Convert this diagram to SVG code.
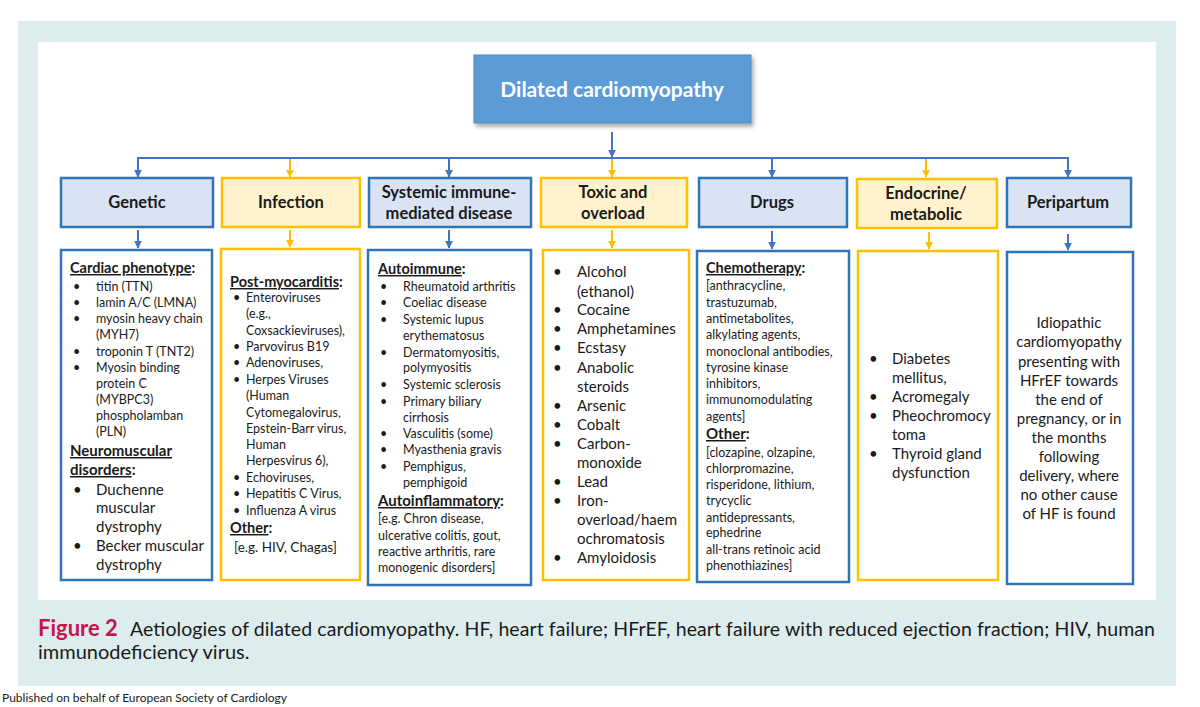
<svg xmlns="http://www.w3.org/2000/svg" width="1200" height="707" viewBox="0 0 1200 707">
<defs>
<style>
text{font-family:Lato,"Liberation Sans",sans-serif;fill:#1a1a1a}
.cb{fill:#dae3f3;stroke:#2e75b6;stroke-width:2.5}
.cy{fill:#fff2cc;stroke:#ffc000;stroke-width:2.5}
.db{fill:#fff;stroke:#2e75b6;stroke-width:2.5}
.dy{fill:#fff;stroke:#ffc000;stroke-width:2.5}
.ct{font-size:16.5px;font-weight:bold;text-anchor:middle}
.s{font-size:12.5px}
.l{font-size:15px}
.h{font-size:14.5px;font-weight:bold}
.u{text-decoration:underline}
.lb{fill:none;stroke:#4472c4;stroke-width:2}
.ly{fill:none;stroke:#ffc000;stroke-width:2}
.c{text-anchor:middle}
</style>
<marker id="ab" viewBox="0 0 10 10" refX="9" refY="5" markerWidth="4" markerHeight="4" orient="auto" markerUnits="strokeWidth"><path d="M0,0 L10,5 L0,10 z" fill="#4472c4"/></marker>
<marker id="ay" viewBox="0 0 10 10" refX="9" refY="5" markerWidth="4" markerHeight="4" orient="auto" markerUnits="strokeWidth"><path d="M0,0 L10,5 L0,10 z" fill="#ffc000"/></marker>
<filter id="sh" x="-10%" y="-10%" width="125%" height="140%"><feDropShadow dx="2" dy="3" stdDeviation="2" flood-color="#000" flood-opacity="0.35"/></filter>
</defs>
<rect width="1200" height="707" fill="#fff"/>
<rect x="18" y="21" width="1158" height="665" fill="#ddeced"/>
<rect x="38" y="42" width="1118" height="558" fill="#fff"/>

<g id="connectors">
<line class="lb" x1="612" y1="132" x2="612" y2="157" marker-end="url(#ab)"/>
<path class="lb" d="M138,176 V158 H1068 V176"/>
<line class="lb" x1="138" y1="158" x2="138" y2="177" marker-end="url(#ab)"/>
<line class="ly" x1="290" y1="159" x2="290" y2="177" marker-end="url(#ay)"/>
<line class="lb" x1="449" y1="158" x2="449" y2="177" marker-end="url(#ab)"/>
<line class="ly" x1="612" y1="159" x2="612" y2="177" marker-end="url(#ay)"/>
<line class="lb" x1="772" y1="158" x2="772" y2="177" marker-end="url(#ab)"/>
<line class="ly" x1="926" y1="159" x2="926" y2="177" marker-end="url(#ay)"/>
<line class="lb" x1="1068" y1="158" x2="1068" y2="177" marker-end="url(#ab)"/>
<line class="lb" x1="138" y1="230" x2="138" y2="248" marker-end="url(#ab)"/>
<line class="ly" x1="290" y1="230" x2="290" y2="247" marker-end="url(#ay)"/>
<line class="lb" x1="449" y1="230" x2="449" y2="248" marker-end="url(#ab)"/>
<line class="ly" x1="612" y1="230" x2="612" y2="248" marker-end="url(#ay)"/>
<line class="lb" x1="772" y1="231" x2="772" y2="249" marker-end="url(#ab)"/>
<line class="ly" x1="929" y1="232" x2="929" y2="249" marker-end="url(#ay)"/>
<line class="lb" x1="1068" y1="234" x2="1068" y2="250" marker-end="url(#ab)"/>
</g>

<g id="root">
<rect x="474" y="55" width="277" height="68" fill="#5b9bd5" stroke="#4f8cc6" stroke-width="1" filter="url(#sh)"/>
<text x="612" y="97" class="c" style="font-size:21px;font-weight:bold;fill:#fff">Dilated cardiomyopathy</text>
</g>

<g id="genetic">
<rect class="cb" x="61" y="178" width="152" height="49"/>
<text class="ct" x="137" y="208">Genetic</text>
<rect class="db" x="61" y="250" width="151" height="330"/>
<text class="h" x="70" y="273"><tspan class="u">Cardiac phenotype</tspan>:</text>
<g class="s">
<text x="73" y="291">•</text><text x="96" y="291">titin (TTN)</text>
<text x="73" y="307">•</text><text x="96" y="307">lamin A/C (LMNA)</text>
<text x="73" y="323">•</text><text x="96" y="323">myosin heavy chain</text>
<text x="96" y="339">(MYH7)</text>
<text x="73" y="356">•</text><text x="96" y="356">troponin T (TNT2)</text>
<text x="73" y="372">•</text><text x="96" y="372">Myosin binding</text>
<text x="96" y="388">protein C</text>
<text x="96" y="404">(MYBPC3)</text>
<text x="96" y="420">phospholamban</text>
<text x="96" y="436">(PLN)</text>
</g>
<text class="h" x="70" y="456" style="font-size:15px"><tspan class="u">Neuromuscular</tspan></text>
<text class="h" x="70" y="475" style="font-size:15px"><tspan class="u">disorders</tspan>:</text>
<g class="l">
<text x="73" y="495">•</text><text x="96" y="495">Duchenne</text>
<text x="96" y="513">muscular</text>
<text x="96" y="532">dystrophy</text>
<text x="73" y="551">•</text><text x="96" y="551">Becker muscular</text>
<text x="96" y="570">dystrophy</text>
</g>
</g>

<g id="infection">
<rect class="cy" x="222" y="178" width="138" height="49"/>
<text class="ct" x="291" y="208">Infection</text>
<rect class="dy" x="221" y="249" width="139" height="331"/>
<text class="h" x="230" y="287"><tspan class="u">Post-myocarditis</tspan>:</text>
<g class="s">
<text x="233" y="302">•</text><text x="246" y="302">Enteroviruses</text>
<text x="246" y="318">(e.g.,</text>
<text x="246" y="335">Coxsackieviruses),</text>
<text x="233" y="351">•</text><text x="246" y="351">Parvovirus B19</text>
<text x="233" y="367">•</text><text x="246" y="367">Adenoviruses,</text>
<text x="233" y="384">•</text><text x="246" y="384">Herpes Viruses</text>
<text x="246" y="400">(Human</text>
<text x="246" y="417">Cytomegalovirus,</text>
<text x="246" y="433">Epstein-Barr virus,</text>
<text x="246" y="449">Human</text>
<text x="246" y="465">Herpesvirus 6),</text>
<text x="233" y="482">•</text><text x="246" y="482">Echoviruses,</text>
<text x="233" y="498">•</text><text x="246" y="498">Hepatitis C Virus,</text>
<text x="233" y="515">•</text><text x="246" y="515">Influenza A virus</text>
</g>
<text class="h" x="230" y="533"><tspan class="u">Other</tspan>:</text>
<text x="234" y="552" style="font-size:13.5px">[e.g. HIV, Chagas]</text>
</g>

<g id="systemic">
<rect class="cb" x="369" y="178" width="162" height="49"/>
<text class="ct" x="449" y="198">Systemic immune-</text>
<text class="ct" x="449" y="219">mediated disease</text>
<rect class="db" x="368" y="250" width="163" height="335"/>
<text class="h" x="378" y="274"><tspan class="u">Autoimmune</tspan>:</text>
<g class="s">
<text x="380" y="291">•</text><text x="403" y="291">Rheumatoid arthritis</text>
<text x="380" y="307">•</text><text x="403" y="307">Coeliac disease</text>
<text x="380" y="324">•</text><text x="403" y="324">Systemic lupus</text>
<text x="403" y="340">erythematosus</text>
<text x="380" y="357">•</text><text x="403" y="357">Dermatomyositis,</text>
<text x="403" y="372">polymyositis</text>
<text x="380" y="389">•</text><text x="403" y="389">Systemic sclerosis</text>
<text x="380" y="406">•</text><text x="403" y="406">Primary biliary</text>
<text x="403" y="422">cirrhosis</text>
<text x="380" y="438">•</text><text x="403" y="438">Vasculitis (some)</text>
<text x="380" y="454">•</text><text x="403" y="454">Myasthenia gravis</text>
<text x="380" y="471">•</text><text x="403" y="471">Pemphigus,</text>
<text x="403" y="487">pemphigoid</text>
</g>
<text class="h" x="378" y="506" style="font-size:15px"><tspan class="u">Autoinflammatory</tspan>:</text>
<g class="s">
<text x="378" y="523">[e.g. Chron disease,</text>
<text x="378" y="540">ulcerative colitis, gout,</text>
<text x="378" y="556">reactive arthritis, rare</text>
<text x="378" y="572">monogenic disorders]</text>
</g>
</g>

<g id="toxic">
<rect class="cy" x="541" y="178" width="146" height="49"/>
<text class="ct" x="613" y="198">Toxic and</text>
<text class="ct" x="613" y="219">overload</text>
<rect class="dy" x="543" y="250" width="146" height="330"/>
<g class="l">
<text x="553" y="277">•</text><text x="577" y="277">Alcohol</text>
<text x="577" y="297">(ethanol)</text>
<text x="553" y="315">•</text><text x="577" y="315">Cocaine</text>
<text x="553" y="334">•</text><text x="577" y="334">Amphetamines</text>
<text x="553" y="353">•</text><text x="577" y="353">Ecstasy</text>
<text x="553" y="373">•</text><text x="577" y="373">Anabolic</text>
<text x="577" y="392">steroids</text>
<text x="553" y="411">•</text><text x="577" y="411">Arsenic</text>
<text x="553" y="430">•</text><text x="577" y="430">Cobalt</text>
<text x="553" y="449">•</text><text x="577" y="449">Carbon-</text>
<text x="577" y="468">monoxide</text>
<text x="553" y="487">•</text><text x="577" y="487">Lead</text>
<text x="553" y="506">•</text><text x="577" y="506">Iron-</text>
<text x="577" y="525">overload/haem</text>
<text x="577" y="544">ochromatosis</text>
<text x="553" y="563">•</text><text x="577" y="563">Amyloidosis</text>
</g>
</g>

<g id="drugs">
<rect class="cb" x="699" y="178" width="148" height="49"/>
<text class="ct" x="772" y="208">Drugs</text>
<rect class="db" x="697" y="251" width="152" height="331"/>
<text class="h" x="706" y="273"><tspan class="u">Chemotherapy</tspan>:</text>
<g class="s">
<text x="706" y="290">[anthracycline,</text>
<text x="706" y="307">trastuzumab,</text>
<text x="706" y="323">antimetabolites,</text>
<text x="706" y="339">alkylating agents,</text>
<text x="706" y="356">monoclonal antibodies,</text>
<text x="706" y="372">tyrosine kinase</text>
<text x="706" y="388">inhibitors,</text>
<text x="706" y="404">immunomodulating</text>
<text x="706" y="421">agents]</text>
</g>
<text class="h" x="706" y="439" style="font-size:15px"><tspan class="u">Other</tspan>:</text>
<g class="s">
<text x="706" y="457">[clozapine, olzapine,</text>
<text x="706" y="473">chlorpromazine,</text>
<text x="706" y="489">risperidone, lithium,</text>
<text x="706" y="505">trycyclic</text>
<text x="706" y="522">antidepressants,</text>
<text x="706" y="537">ephedrine</text>
<text x="706" y="554">all-trans retinoic acid</text>
<text x="706" y="570">phenothiazines]</text>
</g>
</g>

<g id="endocrine">
<rect class="cy" x="857" y="179" width="140" height="49"/>
<text class="ct" x="926" y="199">Endocrine/</text>
<text class="ct" x="926" y="220">metabolic</text>
<rect class="dy" x="858" y="251" width="140" height="329"/>
<g class="l">
<text x="869" y="364">•</text><text x="892" y="364">Diabetes</text>
<text x="892" y="383">mellitus,</text>
<text x="869" y="402">•</text><text x="892" y="402">Acromegaly</text>
<text x="869" y="421">•</text><text x="892" y="421">Pheochromocy</text>
<text x="892" y="440">toma</text>
<text x="869" y="459">•</text><text x="892" y="459">Thyroid gland</text>
<text x="892" y="478">dysfunction</text>
</g>
</g>

<g id="peripartum">
<rect class="cb" x="1007" y="178" width="124" height="49"/>
<text class="ct" x="1068" y="208">Peripartum</text>
<rect class="db" x="1007" y="252" width="126" height="332"/>
<g class="l c">
<text x="1069" y="328">Idiopathic</text>
<text x="1069" y="347">cardiomyopathy</text>
<text x="1069" y="367">presenting with</text>
<text x="1069" y="386">HFrEF towards</text>
<text x="1069" y="405">the end of</text>
<text x="1069" y="424">pregnancy, or in</text>
<text x="1069" y="443">the months</text>
<text x="1069" y="462">following</text>
<text x="1069" y="481">delivery, where</text>
<text x="1069" y="500">no other cause</text>
<text x="1069" y="519">of HF is found</text>
</g>
</g>

<g id="caption">
<text x="38" y="636" style="font-size:22px;font-weight:bold;fill:#c4154d">Figure 2</text>
<text x="130" y="636" style="font-size:19.5px" textLength="1025" lengthAdjust="spacing">Aetiologies of dilated cardiomyopathy. HF, heart failure; HFrEF, heart failure with reduced ejection fraction; HIV, human</text>
<text x="38" y="659" style="font-size:20px">immunodeficiency virus.</text>
<text x="2" y="702" style="font-size:12px">Published on behalf of European Society of Cardiology</text>
</g>
</svg>
